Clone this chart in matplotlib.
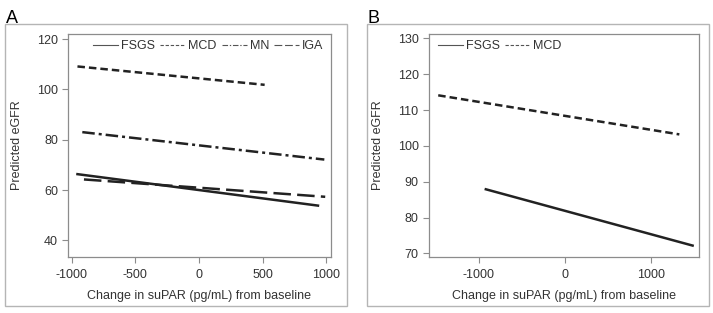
import matplotlib.pyplot as plt
from matplotlib.patches import Rectangle

plt.rcParams['font.family'] = ['Liberation Sans', 'DejaVu Sans']
plt.rcParams['axes.unicode_minus'] = False

# panel A: predicted eGFR lines (end points) by disease group
groups_a = ['FSGS', 'MCD', 'MN', 'IGA']
x_a = {'FSGS': [-955, 935], 'MCD': [-955, 516], 'MN': [-917, 985], 'IGA': [-904, 992]}
y_a = {'FSGS': [66.3, 53.8], 'MCD': [109.1, 101.8], 'MN': [83.0, 72.1], 'IGA': [64.2, 57.3]}
xticks_a = [-1000, -500, 0, 500, 1000]
yticks_a = [40, 60, 80, 100, 120]

# panel B
groups_b = ['FSGS', 'MCD']
x_b = {'FSGS': [-915, 1487], 'MCD': [-1468, 1333]}
y_b = {'FSGS': [87.9, 72.2], 'MCD': [114.1, 103.2]}
xticks_b = [-1000, 0, 1000]
yticks_b = [70, 80, 90, 100, 110, 120, 130]

styles = {'FSGS': '-', 'MCD': (0, (3, 1.6)), 'MN': (0, (5, 1.6, 1.2, 1.6)), 'IGA': (0, (7, 2.5))}
line_color = '#222222'
box_color = '#8c8c8c'

fig = plt.figure(figsize=(7.13, 3.13), dpi=100)

# outer panel borders
for x0 in (0.007, 0.5147):
    fig.add_artist(Rectangle((x0, 0.0224), 0.4792, 0.900, transform=fig.transFigure,
                             fill=False, edgecolor='#b5b5b5', linewidth=1.0))

fig.text(0.008, 0.928, 'A', fontsize=13)
fig.text(0.515, 0.928, 'B', fontsize=13)

ax_a = fig.add_axes([0.0958, 0.1799, 0.368, 0.7115])
ax_b = fig.add_axes([0.6017, 0.1799, 0.3791, 0.7115])

panels = [
    (ax_a, groups_a, x_a, y_a, xticks_a, yticks_a, (-1027, 1035), (33.5, 122), 0.07),
    (ax_b, groups_b, x_b, y_b, xticks_b, yticks_b, (-1575, 1565), (69.1, 131.2), 0.01),
]

for ax, groups, xs, ys, xt, yt, xl, yl, leg_x in panels:
    for g in groups:
        ax.plot(xs[g], ys[g], color=line_color, linestyle=styles[g], linewidth=1.8)
    ax.set_xlim(*xl)
    ax.set_ylim(*yl)
    ax.set_xticks(xt)
    ax.set_yticks(yt)
    for sp in ax.spines.values():
        sp.set_color(box_color)
        sp.set_linewidth(0.9)
    ax.tick_params(colors=box_color, labelcolor='#333333', labelsize=9, length=4, width=0.8)
    ax.tick_params(axis='x', pad=5)
    ax.set_xlabel('Change in suPAR (pg/mL) from baseline', fontsize=9, color='#333333', labelpad=6)
    ax.set_ylabel('Predicted eGFR', fontsize=9, color='#333333', labelpad=10)

    # legend with thin gray handles
    handles = [plt.Line2D([], [], color='#555555', linewidth=0.8, linestyle=styles[g]) for g in groups]
    leg = ax.legend(handles, groups, loc='upper left', ncol=len(groups), frameon=False,
                    fontsize=9, handlelength=2.0, handletextpad=0.25, columnspacing=0.4,
                    bbox_to_anchor=(leg_x, 1.0), borderaxespad=0.2, borderpad=0.3)
    for t in leg.get_texts():
        t.set_color('#333333')

fig.savefig('out.png', dpi=100)
